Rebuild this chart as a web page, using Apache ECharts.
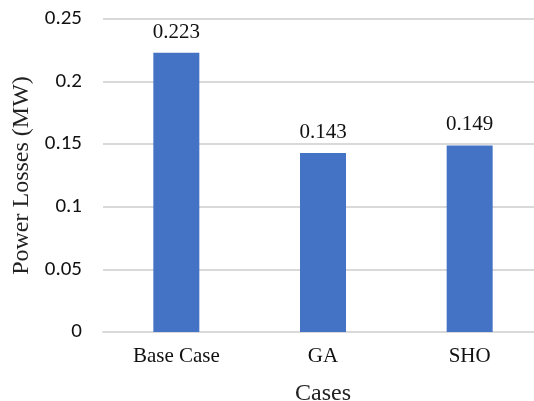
<!DOCTYPE html>
<html>
<head>
<meta charset="utf-8">
<script src="https://cdn.jsdelivr.net/npm/echarts@6/dist/echarts.min.js"></script>
<style>
  html, body { margin: 0; padding: 0; background: #fff; }
  #chart { width: 534px; height: 401px; }
</style>
</head>
<body>
<div id="chart"></div>
<script>
// Power losses per case
const categories = ['Base Case', 'GA', 'SHO'];
const losses = [0.223, 0.143, 0.149];
const yTicks = ['0', '0.05', '0.1', '0.15', '0.2', '0.25'];

const serif = '"Liberation Serif", "Times New Roman", serif';
const sans = 'Carlito, "Liberation Sans", Arial, sans-serif';

const chart = echarts.init(document.getElementById('chart'));
chart.setOption({
  animation: false,
  grid: {
    left: 103, top: 19, bottom: 69, width: 440,
    containLabel: false,
    outerBoundsMode: 'none'
  },
  xAxis: {
    type: 'category',
    data: categories,
    name: 'Cases',
    nameLocation: 'middle',
    nameGap: 50,
    nameTextStyle: { fontFamily: serif, fontSize: 24, color: '#222' },
    axisLine: { lineStyle: { color: '#d9d9d9', width: 2 } },
    axisTick: { show: false },
    axisLabel: { fontFamily: serif, fontSize: 21, color: '#111', margin: 14 }
  },
  yAxis: {
    type: 'value',
    min: 0,
    max: 0.25,
    interval: 0.05,
    name: 'Power Losses (MW)',
    nameLocation: 'middle',
    nameGap: 60,
    nameTextStyle: { fontFamily: serif, fontSize: 24, color: '#222' },
    axisLine: { show: false },
    axisTick: { show: false },
    splitLine: { lineStyle: { color: '#d9d9d9', width: 2 } },
    axisLabel: {
      fontFamily: sans,
      fontSize: 21,
      color: '#111',
      margin: 21,
      formatter: (v) => {
        const idx = Math.round(v / 0.05);
        return yTicks[idx] !== undefined ? yTicks[idx] : String(v);
      }
    }
  },
  series: [{
    type: 'bar',
    data: losses,
    barWidth: 46,
    itemStyle: { color: '#4472C4' },
    label: {
      show: true,
      position: 'top',
      distance: 10,
      fontFamily: serif,
      fontSize: 21,
      color: '#111',
      formatter: (p) => p.value.toFixed(3)
    }
  }]
});
</script>
</body>
</html>
